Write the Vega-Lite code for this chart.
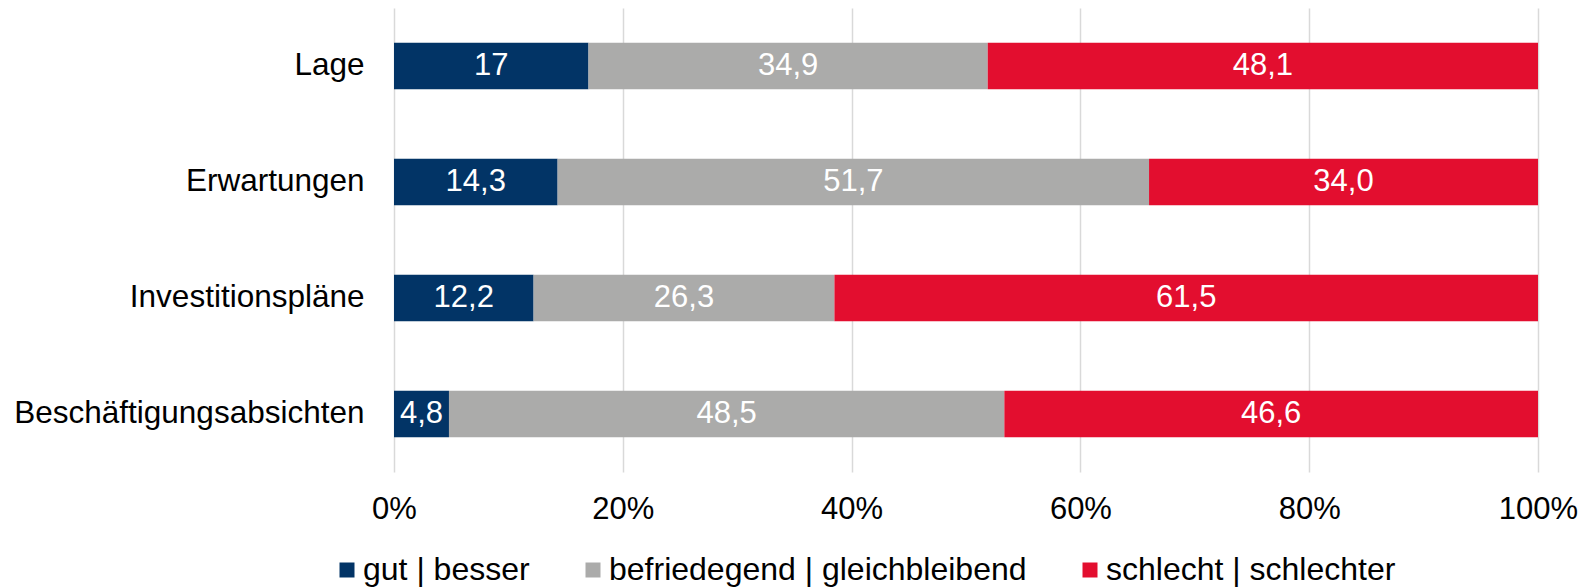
{
  "$schema": "https://vega.github.io/schema/vega-lite/v6.json",
  "autosize": {"type": "none"},
  "padding": {"left": 394, "top": 8, "right": 47, "bottom": 115},
  "width": 1144,
  "height": 464,
  "background": "white",
  "config": {
    "font": "Liberation Sans",
    "view": {"stroke": null}
  },
  "data": {
    "values": [
      {"cat": "Lage", "series": "gut | besser", "k": 1, "value": 17.0, "label": "17"},
      {"cat": "Lage", "series": "befriedegend | gleichbleibend", "k": 2, "value": 34.9, "label": "34,9"},
      {"cat": "Lage", "series": "schlecht | schlechter", "k": 3, "value": 48.1, "label": "48,1"},
      {"cat": "Erwartungen", "series": "gut | besser", "k": 1, "value": 14.3, "label": "14,3"},
      {"cat": "Erwartungen", "series": "befriedegend | gleichbleibend", "k": 2, "value": 51.7, "label": "51,7"},
      {"cat": "Erwartungen", "series": "schlecht | schlechter", "k": 3, "value": 34.0, "label": "34,0"},
      {"cat": "Investitionspläne", "series": "gut | besser", "k": 1, "value": 12.2, "label": "12,2"},
      {"cat": "Investitionspläne", "series": "befriedegend | gleichbleibend", "k": 2, "value": 26.3, "label": "26,3"},
      {"cat": "Investitionspläne", "series": "schlecht | schlechter", "k": 3, "value": 61.5, "label": "61,5"},
      {"cat": "Beschäftigungsabsichten", "series": "gut | besser", "k": 1, "value": 4.8, "label": "4,8"},
      {"cat": "Beschäftigungsabsichten", "series": "befriedegend | gleichbleibend", "k": 2, "value": 48.5, "label": "48,5"},
      {"cat": "Beschäftigungsabsichten", "series": "schlecht | schlechter", "k": 3, "value": 46.6, "label": "46,6"}
    ]
  },
  "transform": [
    {"stack": "value", "groupby": ["cat"], "sort": [{"field": "k", "order": "ascending"}], "offset": "normalize", "as": ["x0", "x1"]},
    {"calculate": "(datum.x0 + datum.x1) / 2", "as": "xm"}
  ],
  "encoding": {
    "y": {
      "field": "cat",
      "type": "nominal",
      "sort": ["Lage", "Erwartungen", "Investitionspläne", "Beschäftigungsabsichten"],
      "scale": {"paddingInner": 0.6, "paddingOuter": 0.3},
      "axis": {
        "title": null,
        "domain": false,
        "ticks": false,
        "labelFontSize": 31.5,
        "labelColor": "#000000",
        "labelPadding": 30,
        "labelLimit": 500
      }
    }
  },
  "layer": [
    {
      "mark": {"type": "bar"},
      "encoding": {
        "x": {
          "field": "x0",
          "type": "quantitative",
          "scale": {"domain": [0, 1], "nice": false},
          "axis": {
            "title": null,
            "format": ".0%",
            "values": [0, 0.2, 0.4, 0.6, 0.8, 1],
            "domain": false,
            "ticks": false,
            "grid": true,
            "gridColor": "#D9D9D9",
            "gridWidth": 1.5,
            "labelFontSize": 31,
            "labelColor": "#000000",
            "labelPadding": 22,
            "labelFlush": false
          }
        },
        "x2": {"field": "x1"},
        "color": {
          "field": "series",
          "type": "nominal",
          "scale": {
            "domain": ["gut | besser", "befriedegend | gleichbleibend", "schlecht | schlechter"],
            "range": ["#023466", "#ABABAA", "#E30E2F"]
          },
          "legend": {
            "title": null,
            "orient": "none",
            "direction": "horizontal",
            "legendX": -63,
            "legendY": 546,
            "symbolType": "square",
            "symbolSize": 225,
            "symbolStrokeWidth": 0,
            "labelFontSize": 32,
            "labelColor": "#000000",
            "labelOffset": 0,
            "columnPadding": 47,
            "labelLimit": 600
          }
        }
      }
    },
    {
      "mark": {"type": "text", "color": "#FFFFFF", "fontSize": 31, "align": "center", "baseline": "middle"},
      "encoding": {
        "x": {"field": "xm", "type": "quantitative"},
        "text": {"field": "label", "type": "nominal"}
      }
    }
  ]
}
